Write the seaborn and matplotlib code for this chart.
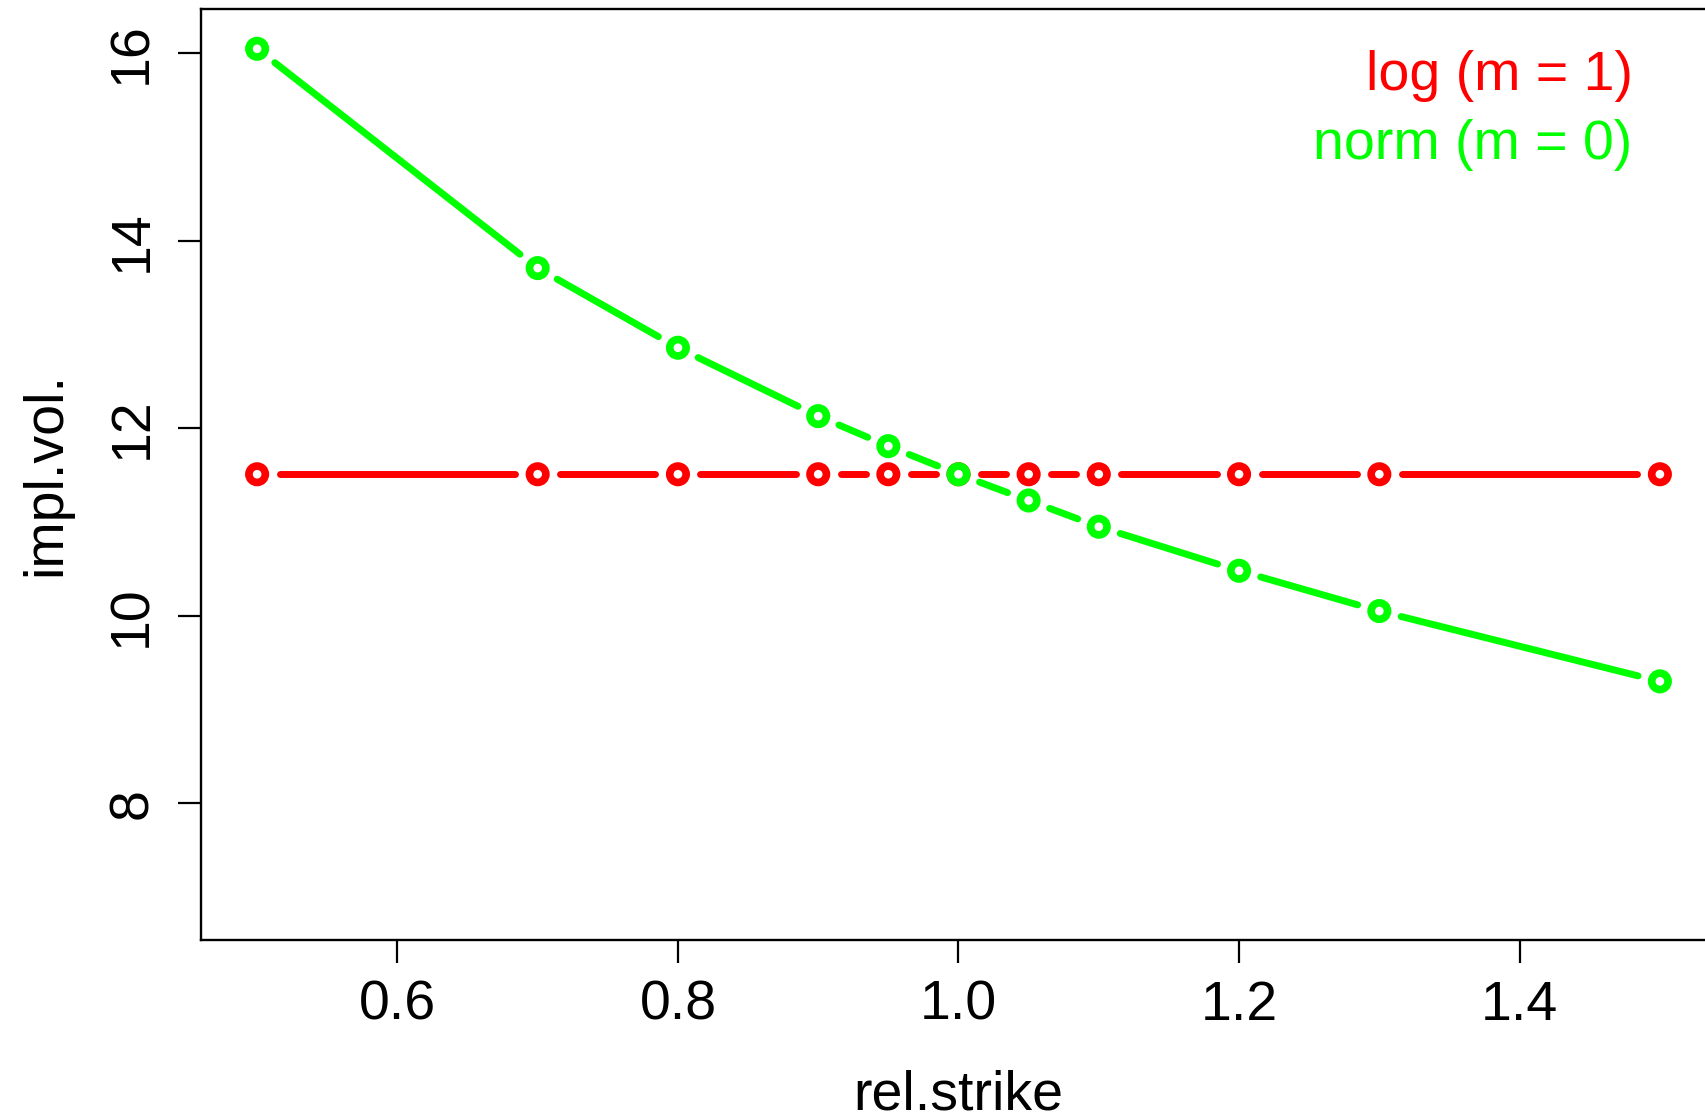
import numpy as np
import pandas as pd
import matplotlib
matplotlib.use("Agg")
import matplotlib.pyplot as plt
import seaborn as sns

rel_strike = [0.5, 0.7, 0.8, 0.9, 0.95, 1.0, 1.05, 1.1, 1.2, 1.3, 1.5]
vol_log = [11.51, 11.51, 11.51, 11.51, 11.51, 11.51, 11.51, 11.51, 11.51, 11.51, 11.51]
vol_norm = [16.05, 13.71, 12.86, 12.13, 11.81, 11.51, 11.23, 10.95, 10.48, 10.05, 9.30]
series_labels = ["log (m = 1)", "norm (m = 0)"]
series_colors = ["#FF0000", "#00FF00"]
x_ticks = [0.6, 0.8, 1.0, 1.2, 1.4]
x_tick_labels = ["0.6", "0.8", "1.0", "1.2", "1.4"]
y_ticks = [8, 10, 12, 14, 16]
y_tick_labels = ["8", "10", "12", "14", "16"]

sns.set_style("white")
plt.rcParams['font.family'] = ['Liberation Sans', 'DejaVu Sans']
plt.rcParams['text.color'] = 'black'
plt.rcParams['axes.labelcolor'] = 'black'
plt.rcParams['xtick.color'] = 'black'
plt.rcParams['ytick.color'] = 'black'

df = pd.DataFrame({
    "rel.strike": rel_strike * 2,
    "impl.vol.": vol_log + vol_norm,
    "series": [series_labels[0]] * len(rel_strike) + [series_labels[1]] * len(rel_strike),
})

DPI = 100
fig = plt.figure(figsize=(17.06, 11.17), dpi=DPI)
ax = fig.add_axes([201 / 1706, 1 - 940 / 1117, (1716 - 201) / 1706, (940 - 8.5) / 1117])
ax.set_xlim(0.46, 1.54)
ax.set_ylim(6.54, 16.48)

lw = 5.0
gap = 22.5  # pixels between point centre and line segment end
fig.canvas.draw()
for lab, col in zip(series_labels, series_colors):
    sub = df[df["series"] == lab]
    pts = ax.transData.transform(np.column_stack([sub["rel.strike"], sub["impl.vol."]]))
    inv = ax.transData.inverted()
    for p0, p1 in zip(pts[:-1], pts[1:]):
        d = p1 - p0
        L = np.hypot(*d)
        if L <= 2 * gap:
            continue
        u = d / L
        a = inv.transform(p0 + u * gap)
        b = inv.transform(p1 - u * gap)
        ax.plot([a[0], b[0]], [a[1], b[1]], color=col, lw=lw, solid_capstyle="round", zorder=2)

sns.scatterplot(data=df, x="rel.strike", y="impl.vol.", hue="series",
                palette=dict(zip(series_labels, series_colors)),
                ax=ax, s=140, marker="o", linewidth=5.5,
                legend=False, zorder=3)
for coll in ax.collections:
    ec = coll.get_facecolors()
    coll.set_edgecolors(ec)
    coll.set_facecolors("white")

ax.set_xlim(0.46, 1.54)
ax.set_ylim(6.54, 16.48)
ax.set_xticks(x_ticks)
ax.set_xticklabels(x_tick_labels)
ax.set_yticks(y_ticks)
ax.set_yticklabels(y_tick_labels, rotation=90, va="center")
ax.tick_params(axis="both", which="major", labelsize=40, length=16.5, width=1.6,
               color="black", labelcolor="black", direction="out", bottom=True, left=True)
ax.tick_params(axis="x", pad=12)
ax.tick_params(axis="y", pad=14)
ax.set_xlabel("rel.strike", fontsize=40, labelpad=27, color="black")
ax.set_ylabel("impl.vol.", fontsize=40, labelpad=25, color="black")
for s in ["top", "left", "bottom", "right"]:
    ax.spines[s].set_color("black")
    ax.spines[s].set_linewidth(1.7)
ax.grid(False)

ax.text(0.945, 0.9275, series_labels[0], color=series_colors[0], fontsize=40,
        ha="right", va="center", transform=ax.transAxes)
ax.text(0.945, 0.8535, series_labels[1], color=series_colors[1], fontsize=40,
        ha="right", va="center", transform=ax.transAxes)

fig.savefig("out.png", dpi=DPI, facecolor="white")
